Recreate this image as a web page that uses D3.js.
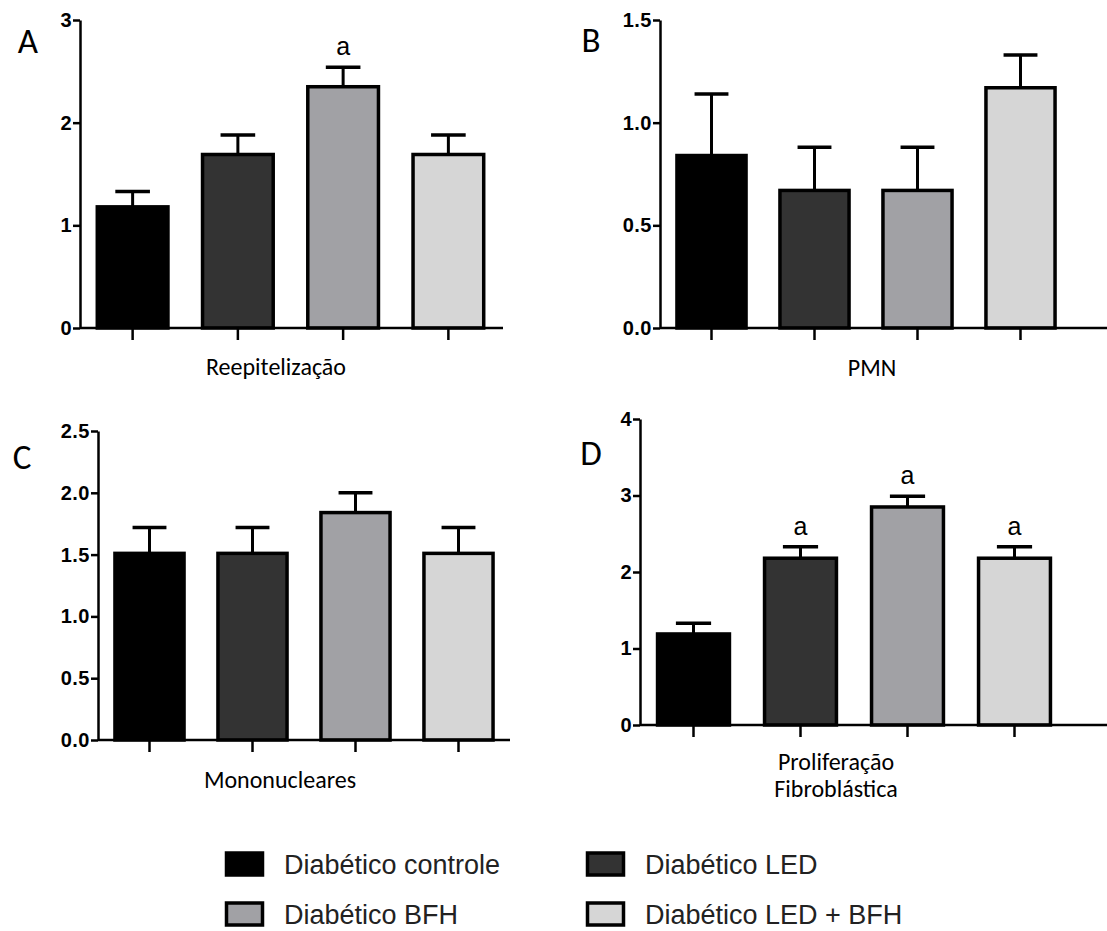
<!DOCTYPE html>
<html>
<head>
<meta charset="utf-8">
<script src="https://cdn.jsdelivr.net/npm/d3@7"></script>
<style>
  body { margin: 0; background: #fff; }
  svg { display: block; }
  .tick text { font-family: "Liberation Sans", Arial, sans-serif; font-weight: bold; font-size: 20px; letter-spacing: 0.5px; fill: #000; }
  .lbl { font-family: Carlito, Calibri, Lato, sans-serif; fill: #000; }
  .leg { font-family: "Liberation Sans", Arial, sans-serif; font-size: 27px; fill: #222; }
</style>
</head>
<body>
<div id="chart"></div>
<script>
// groups and values
var groups = ["Diabético controle", "Diabético LED", "Diabético BFH", "Diabético LED + BFH"];

var reepMean = [1.18, 1.69, 2.35, 1.69];
var reepSem  = [0.15, 0.19, 0.19, 0.19];
var reepSig  = ["", "", "a", ""];
var reepTicks = [0, 1, 2, 3];

var pmnMean = [0.84, 0.67, 0.67, 1.17];
var pmnSem  = [0.30, 0.21, 0.21, 0.16];
var pmnSig  = ["", "", "", ""];
var pmnTicks = [0, 0.5, 1.0, 1.5];

var monoMean = [1.51, 1.51, 1.84, 1.51];
var monoSem  = [0.21, 0.21, 0.16, 0.21];
var monoSig  = ["", "", "", ""];
var monoTicks = [0, 0.5, 1.0, 1.5, 2.0, 2.5];

var fibroMean = [1.19, 2.18, 2.85, 2.18];
var fibroSem  = [0.14, 0.15, 0.14, 0.15];
var fibroSig  = ["", "a", "a", "a"];
var fibroTicks = [0, 1, 2, 3, 4];

var fills = ["#000000", "#333333", "#a1a1a5", "#d6d6d6"];

var svg = d3.select("#chart").append("svg")
    .attr("width", 1107)
    .attr("height", 931);

var panels = [
    { letter: "A", lx: 28, ly: 53, label: ["Reepitelização"], labelX: 276, labelY: 375,
      mean: reepMean, sem: reepSem, sig: reepSig, ticks: reepTicks, fmt: d3.format("d"),
      left: 80, bandEnd: 501, axisEnd: 503, top: 20, bottom: 328 },
    { letter: "B", lx: 591, ly: 52, label: ["PMN"], labelX: 872, labelY: 376,
      mean: pmnMean, sem: pmnSem, sig: pmnSig, ticks: pmnTicks, fmt: d3.format(".1f"),
      left: 660, bandEnd: 1072, axisEnd: 1107, top: 20, bottom: 328 },
    { letter: "C", lx: 22, ly: 469, label: ["Mononucleares"], labelX: 280, labelY: 788,
      mean: monoMean, sem: monoSem, sig: monoSig, ticks: monoTicks, fmt: d3.format(".1f"),
      left: 98, bandEnd: 510, axisEnd: 510, top: 431, bottom: 740 },
    { letter: "D", lx: 591, ly: 465, label: ["Proliferação", "Fibroblástica"], labelX: 836, labelY: 770,
      mean: fibroMean, sem: fibroSem, sig: fibroSig, ticks: fibroTicks, fmt: d3.format("d"),
      left: 640, bandEnd: 1068, axisEnd: 1107, top: 419, bottom: 725 }
];

panels.forEach(function (p) {
    var x = d3.scaleBand()
        .domain(groups)
        .range([p.left, p.bandEnd])
        .paddingInner(0.3)
        .paddingOuter(0.15);

    var y = d3.scaleLinear()
        .domain([0, d3.max(p.ticks)])
        .range([p.bottom, p.top]);

    var g = svg.append("g");

    var rows = groups.map(function (name, i) {
        return { name: name, mean: p.mean[i], sem: p.sem[i], sig: p.sig[i], fill: fills[i] };
    });

    // error bars (upper half only, drawn under the bars)
    var err = g.selectAll(".err").data(rows).enter().append("g").attr("class", "err");
    err.append("line")
        .attr("x1", function (d) { return x(d.name) + x.bandwidth() / 2; })
        .attr("x2", function (d) { return x(d.name) + x.bandwidth() / 2; })
        .attr("y1", function (d) { return y(d.mean); })
        .attr("y2", function (d) { return y(d.mean + d.sem); })
        .attr("stroke", "#000").attr("stroke-width", 3);
    err.append("line")
        .attr("x1", function (d) { return x(d.name) + x.bandwidth() * 0.265; })
        .attr("x2", function (d) { return x(d.name) + x.bandwidth() * 0.735; })
        .attr("y1", function (d) { return y(d.mean + d.sem); })
        .attr("y2", function (d) { return y(d.mean + d.sem); })
        .attr("stroke", "#000").attr("stroke-width", 3.5);

    g.selectAll(".bar").data(rows).enter().append("rect")
        .attr("class", "bar")
        .attr("x", function (d) { return x(d.name) + 1.5; })
        .attr("width", x.bandwidth() - 3)
        .attr("y", function (d) { return y(d.mean); })
        .attr("height", function (d) { return y(0) - y(d.mean); })
        .attr("fill", function (d) { return d.fill; })
        .attr("stroke", "#000")
        .attr("stroke-width", 3.5);

    g.selectAll(".sig").data(rows).enter().append("text")
        .attr("class", "sig")
        .attr("x", function (d) { return x(d.name) + x.bandwidth() / 2; })
        .attr("y", function (d) { return y(d.mean + d.sem) - 12; })
        .attr("text-anchor", "middle")
        .style("font-family", "'Liberation Sans', Arial, sans-serif")
        .style("font-size", "25px")
        .text(function (d) { return d.sig; });

    var yAxis = g.append("g")
        .attr("transform", "translate(" + p.left + ",0)")
        .call(d3.axisLeft(y).tickValues(p.ticks).tickFormat(p.fmt).tickSize(7).tickSizeOuter(0).tickPadding(1));

    var xAxis = g.append("g")
        .attr("transform", "translate(0," + p.bottom + ")")
        .call(d3.axisBottom(x).tickFormat("").tickSize(12).tickSizeOuter(0));

    // baseline runs past the last band in some panels
    xAxis.select(".domain").attr("d", "M" + p.left + ",0H" + p.axisEnd);

    [yAxis, xAxis].forEach(function (a) {
        a.select(".domain").attr("stroke-width", 2.5);
        a.selectAll(".tick line").attr("stroke-width", 2.5);
    });

    g.append("text")
        .attr("class", "lbl")
        .attr("x", p.lx).attr("y", p.ly)
        .attr("text-anchor", "middle")
        .style("font-size", "35px")
        .text(p.letter);

    g.selectAll(".axlbl").data(p.label).enter().append("text")
        .attr("class", "lbl")
        .attr("x", p.labelX)
        .attr("y", function (d, i) { return p.labelY + i * 27; })
        .attr("text-anchor", "middle")
        .style("font-size", "24px")
        .text(function (d) { return d; });
});

// legend
var legX = [225, 586];
var legY = [864, 914];
var leg = svg.selectAll(".legitem").data(groups).enter().append("g")
    .attr("class", "legitem")
    .attr("transform", function (d, i) {
        return "translate(" + legX[i % 2] + "," + legY[Math.floor(i / 2)] + ")";
    });
leg.append("rect")
    .attr("x", 1.5).attr("y", -11)
    .attr("width", 36).attr("height", 22)
    .attr("fill", function (d, i) { return fills[i]; })
    .attr("stroke", "#000").attr("stroke-width", 3.5);
leg.append("text")
    .attr("class", "leg")
    .attr("x", 59).attr("y", 10)
    .text(function (d) { return d; });
</script>
</body>
</html>
